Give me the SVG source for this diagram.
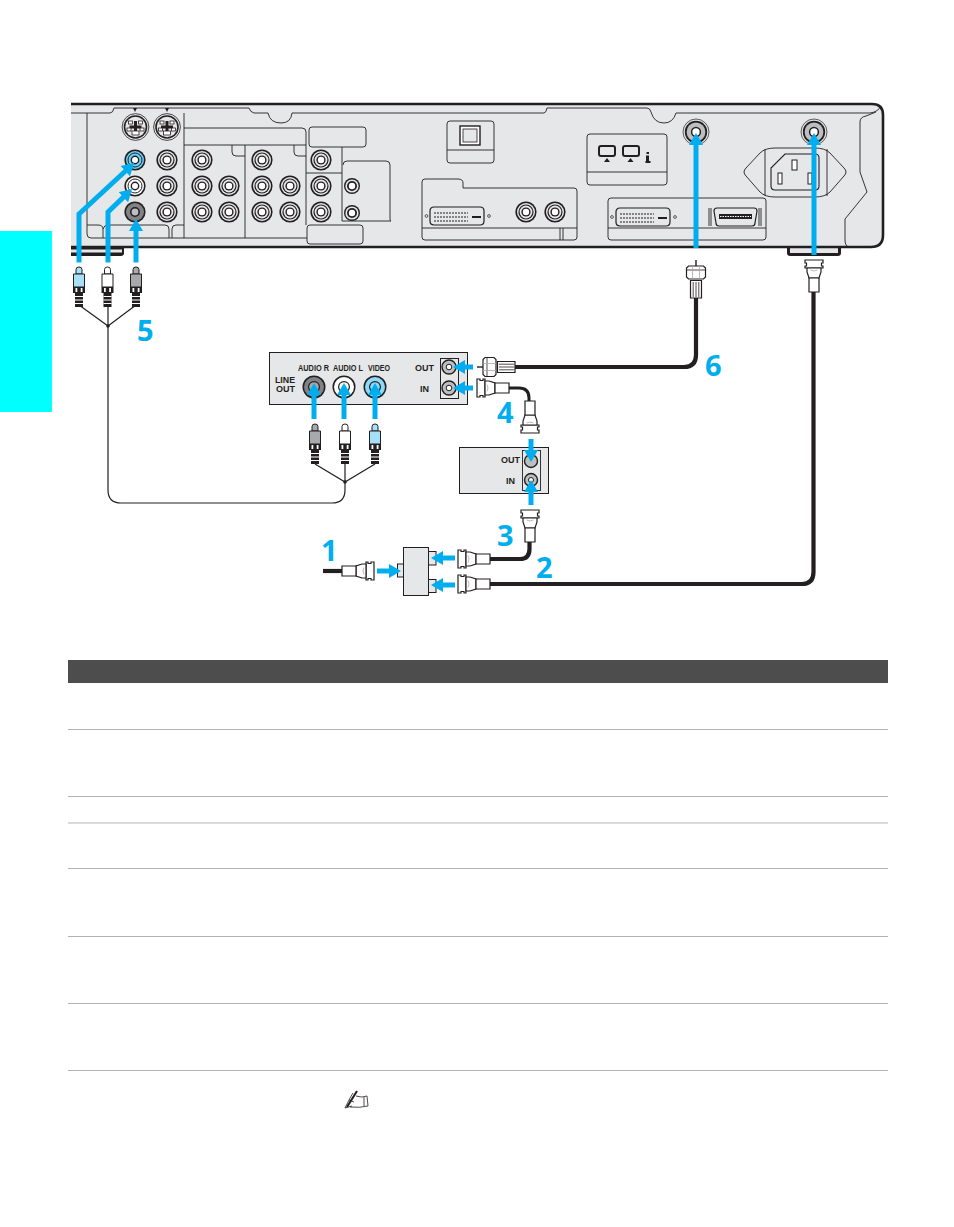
<svg xmlns="http://www.w3.org/2000/svg" width="954" height="1227" viewBox="0 0 954 1227">
<style>
.ln{fill:none;stroke:#231f20;stroke-width:.9}
.pn{fill:#e6e7e8;stroke:#231f20;stroke-width:.9}
.thick{fill:none;stroke:#231f20;stroke-width:4.2}
.mid{fill:none;stroke:#231f20;stroke-width:3}
.thin{fill:none;stroke:#231f20;stroke-width:1.2}
.arr{fill:none;stroke:#00aeef;stroke-width:5;marker-end:url(#ah)}
.num{font-family:"Open Sans",sans-serif;font-weight:700;font-size:29px;fill:#00aeef}
.lab{font-family:"Liberation Sans",sans-serif;font-weight:700;font-size:8.4px;fill:#231f20}
.rule{fill:none;stroke:#b3b3b3;stroke-width:1}
</style>
<defs>
<marker id="ah" markerUnits="userSpaceOnUse" markerWidth="14" markerHeight="16" refX="1" refY="8" orient="auto"><path d="M0 1L12 8L0 15Z" fill="#00aeef"/></marker>
<g id="rca"><circle r="10.6" fill="#231f20"/><circle r="9" fill="#e6e7e8"/><circle r="7.6" fill="#231f20"/><circle r="6.4" fill="#e6e7e8"/><circle r="4.6" fill="#231f20"/><circle r="3.2" fill="#fff"/></g>
<g id="rcas"><circle r="8" fill="#231f20"/><circle r="6.6" fill="#e6e7e8"/><circle r="5" fill="#231f20"/><circle r="3.2" fill="#fff"/></g>
<g id="svid"><circle r="13.4" fill="#e6e7e8" stroke="#231f20" stroke-width=".8"/><circle r="11.8" fill="#231f20"/><circle r="10.2" fill="#e6e7e8"/><path d="M-1.5-6H1.500V-1.500H6V1.500H1.500V4H-1.500V1.500H-6V-1.500H-1.500Z" fill="#231f20"/><g fill="#fff" stroke="#231f20" stroke-width=".8"><rect x="-7" y="-6" width="4" height="3"/><rect x="3" y="-6" width="4" height="3"/><rect x="-8.500" y="1" width="4" height="3"/><rect x="4.500" y="1" width="4" height="3"/><rect x="-3.500" y="4" width="7" height="4"/></g></g>
<g id="coax"><circle r="13" fill="#e6e7e8" stroke="#231f20" stroke-width=".7"/><circle r="11.200" fill="#231f20"/><circle r="9.400" fill="#bcbec0"/><circle r="4.400" fill="#fff" stroke="#231f20" stroke-width="1.500"/></g>
<g id="rcaplug"><path d="M-3 7V2.500Q-3 0 0 0Q3 0 3 2.500V7Z" stroke="#231f20" stroke-width="1"/><path d="M-5.500 7H5.500V20H-5.500Z" stroke="#231f20" stroke-width="1"/><path d="M-6 20H6V26H-6Z" fill="#231f20"/><rect x="-3.500" y="21" width="1.800" height="4" fill="#fff"/><rect x="1.700" y="21" width="1.800" height="4" fill="#fff"/><rect x="-4" y="26" width="8" height="14" fill="#231f20"/><path d="M-4 29.500h8M-4 33h8M-4 36.500h8" stroke="#fff" stroke-width="1"/></g>
<g id="coaxA" fill="#fff" stroke="#231f20" stroke-width="1"><path d="M0 0V6" stroke-width="1.400"/><path d="M-7.500 6H7.500L9.500 8V17L7.500 19H-7.500L-9.500 17V8Z" stroke-width="1.200"/><path d="M-9.500 10H9.500" stroke-width=".8"/><path d="M-3.500 6V19M3.500 6V19" stroke="#a7a9ac" stroke-width=".8"/><path d="M-5.500 20.500H5.500V38H-5.500Z" stroke-width="1.200"/><path d="M-2.800 22V37M0 22V37M2.800 22V37" stroke-width=".8"/></g>
<g id="coaxB" fill="#fff" stroke="#231f20" stroke-width="1.200"><path d="M-9 0H9V3H7.500V6H9V8H-9V6H-7.500V3H-9Z"/><path d="M-7 8H7V12L5 18H-5L-7 12Z"/><path d="M-5 18H5V32H-5Z"/><path d="M-3.500 10Q0 12 3.500 10" stroke="#a7a9ac" stroke-width=".8" fill="none"/></g>
<g id="dvi" fill="none" stroke="#231f20"><path d="M4 0H50Q54 0 54 4V14Q54 18 50 18H4Q0 18 0 14V4Q0 0 4 0Z" stroke-width="1.200"/><path d="M4 6H38M4 10H38M4 14H38" stroke-width="1.100" stroke-dasharray="2 1"/><path d="M42 10H51" stroke-width="2"/></g>
</defs>

<rect id="side-tab" x="0" y="231" width="52" height="181" fill="#00ffff"/>

<g id="panel">
<path d="M71 247H124V253Q124 256 121 256H71Z" fill="#231f20"/><rect x="71" y="249.500" width="51" height="3" fill="#e6e7e8"/>
<path d="M787 247H841V253Q841 256 838 256H790Q787 256 787 253Z" fill="#231f20"/><rect x="790" y="248" width="48" height="5" fill="#e6e7e8"/>
<path d="M71 104H872Q883 104 883 115V235Q883 247 871 247H71Z" fill="#e6e7e8"/>
<path d="M71 104H872Q883 104 883 115V235Q883 247 871 247H71" fill="none" stroke="#231f20" stroke-width="2.600"/>
<path class="ln" d="M71 113H110Q113 113 114 108H249Q250 112 254 113H268Q270 123 281 123Q291 123 292 113H544Q546 113 547 108H647Q650 108 651 112Q654 123 664 123Q673 123 676 113H870Q878 112 881 106"/>
<path class="ln" d="M87 113V234Q87 238 91 238H184V113"/>
<path class="ln" d="M87 225H98Q103 225 103 229V238M103 229Q104 225 108 225H165Q169 225 169 229V238M172 238V229Q172 225 176 225H184"/>
<path class="ln" d="M184 128H302Q306 128 306 132V225M184 145H306M245 145V238M184 238H307M232 145V152Q232 156 236 156H245M294 145V152Q294 156 298 156H306M306 173H342M342 147V173"/>
<rect class="ln" x="309" y="127" width="57" height="20" rx="3"/>
<path class="ln" d="M342 173V221H391Q390 221 390 219V165Q390 161 386 161H347Q343 161 343 165"/>
<rect class="pn" x="307" y="225" width="56" height="19" rx="3"/>
<path d="M133 108h4l-2 4ZM165 108h4l-2 4Z" fill="#231f20"/>
<path class="ln" d="M860 247H850Q845 247 845 240V219L867 192L860 172V122Q860 117 866 116L876 112"/>

<use href="#svid" x="135.500" y="127"/><use href="#svid" x="167" y="127"/>
<g id="jack-blue"><circle cx="135" cy="160" r="10.600" fill="#231f20"/><circle cx="135" cy="160" r="9" fill="#6dcff6"/><circle cx="135" cy="160" r="7" fill="none" stroke="#231f20"/><circle cx="135" cy="160" r="4.400" fill="#231f20"/><circle cx="135" cy="160" r="3" fill="#fff"/></g>
<g id="jack-white"><circle cx="135" cy="186" r="10.600" fill="#231f20"/><circle cx="135" cy="186" r="9" fill="#fff"/><circle cx="135" cy="186" r="7" fill="none" stroke="#231f20"/><circle cx="135" cy="186" r="4.400" fill="#231f20"/><circle cx="135" cy="186" r="3" fill="#fff"/></g>
<g id="jack-grey"><circle cx="135" cy="212" r="10.600" fill="#231f20"/><circle cx="135" cy="212" r="9" fill="#808285"/><circle cx="135" cy="212" r="5" fill="#231f20"/><circle cx="135" cy="212" r="3.400" fill="#bcbec0"/></g>
<use href="#rca" x="167" y="160"/><use href="#rca" x="167" y="186"/><use href="#rca" x="167" y="212"/>
<use href="#rca" x="202" y="160"/><use href="#rca" x="202" y="186"/><use href="#rca" x="202" y="212"/>
<use href="#rca" x="229" y="186"/><use href="#rca" x="229" y="212"/>
<use href="#rca" x="262" y="160"/><use href="#rca" x="262" y="186"/><use href="#rca" x="262" y="212"/>
<use href="#rca" x="290" y="186"/><use href="#rca" x="290" y="212"/>
<use href="#rca" x="321" y="160"/><use href="#rca" x="321" y="186"/><use href="#rca" x="321" y="212"/>
<use href="#rcas" x="352" y="186"/><use href="#rcas" x="352" y="213"/>

<rect class="ln" x="447" y="121" width="47" height="42" rx="3"/><path class="ln" d="M447 150H494"/>
<rect x="460" y="126" width="20" height="19" fill="#fff" stroke="#231f20" stroke-width="1.400"/><rect x="463" y="129" width="14" height="13" fill="#e6e7e8" stroke="#231f20" stroke-width=".8"/>
<rect class="ln" x="587" y="134" width="80" height="51" rx="3"/><path class="ln" d="M587 172H667"/>
<g fill="#e6e7e8" stroke="#231f20" stroke-width="2"><rect x="599" y="146" width="16" height="10" rx="2"/><rect x="623" y="146" width="16" height="10" rx="2"/></g>
<path d="M604 162l3-4l3 4ZM627.500 162l3-4l3 4Z" fill="#231f20"/>
<path d="M646.500 152h2.500v2h-2.500ZM646 155.500h3v5.500h1.500v2h-5v-2h.5Z" fill="#231f20"/>
<path class="ln" d="M425 179H458Q463 179 463 183V188H574Q577 188 577 191V237Q577 240 574 240H425Q422 240 422 237V182Q422 179 425 179ZM422 228H577M560 228V240M563 240V228"/>
<use href="#dvi" x="430" y="207"/><circle cx="426.500" cy="216" r="1.400" fill="none" stroke="#231f20" stroke-width=".7"/><circle cx="489" cy="216" r="1.400" fill="none" stroke="#231f20" stroke-width=".7"/>
<use href="#rca" x="526" y="212"/><use href="#rca" x="555" y="212"/>
<rect class="ln" x="608" y="198" width="158" height="42" rx="3"/><path class="ln" d="M608 228H766"/>
<use href="#dvi" x="616" y="208"/><circle cx="612" cy="217" r="1.400" fill="none" stroke="#231f20" stroke-width=".7"/><circle cx="675" cy="217" r="1.400" fill="none" stroke="#231f20" stroke-width=".7"/>
<path d="M717 208H754Q757 208 757 211L755 223Q755 226 752 226H719Q716 226 716 223L714 211Q714 208 717 208Z" fill="#e6e7e8" stroke="#231f20" stroke-width="1.200"/>
<rect x="719" y="214" width="33" height="5" fill="#231f20"/><path d="M720 216.500H751" stroke="#fff" stroke-width="1.200" stroke-dasharray="1.500 1"/>
<path d="M709 208V226M711 208V226M759 208V226M761 208V226" class="ln"/>
<path class="ln" d="M775 148H815Q825 148 830 153L844 168Q848 172 844 176L830 192Q825 197 815 197H775Q765 197 760 192L746 176Q742 172 746 168L760 153Q765 148 775 148ZM765 149V196M827 149V196"/>
<path class="pn" d="M785 154H815Q819 154 819 158V186Q819 190 815 190H775Q771 190 771 186V168Z" style="fill:#e6e7e8;stroke-width:1.100"/>
<rect x="792" y="160" width="5" height="10" fill="#fff" stroke="#231f20"/><rect x="778" y="173" width="4" height="11" fill="#fff" stroke="#231f20"/><rect x="808" y="173" width="4" height="11" fill="#fff" stroke="#231f20"/>
<use href="#coax" x="696" y="132"/><use href="#coax" x="814" y="132"/>
</g>

<g id="line-out-box">
<rect x="269.500" y="352.500" width="198" height="52" fill="#e6e7e8" stroke="#231f20"/>
<text class="lab" x="298" y="371" textLength="31" lengthAdjust="spacingAndGlyphs">AUDIO R</text><text class="lab" x="333" y="371" textLength="30" lengthAdjust="spacingAndGlyphs">AUDIO L</text><text class="lab" x="368" y="371" textLength="22" lengthAdjust="spacingAndGlyphs">VIDEO</text>
<text class="lab" x="275" y="383" textLength="20" lengthAdjust="spacingAndGlyphs">LINE</text><text class="lab" x="276" y="392" textLength="19" lengthAdjust="spacingAndGlyphs">OUT</text>
<text class="lab" x="415" y="371" textLength="19" lengthAdjust="spacingAndGlyphs">OUT</text><text class="lab" x="420" y="392" textLength="9" lengthAdjust="spacingAndGlyphs">IN</text>
<circle cx="314" cy="387" r="11.500" fill="#231f20"/><circle cx="314" cy="387" r="10" fill="#808285"/><circle cx="314" cy="387" r="6" fill="#231f20"/><circle cx="314" cy="387" r="4.800" fill="#a7a9ac"/>
<circle cx="344" cy="387" r="11.500" fill="#231f20"/><circle cx="344" cy="387" r="10" fill="#fff"/><circle cx="344" cy="387" r="6" fill="#231f20"/><circle cx="344" cy="387" r="4.800" fill="#fff"/>
<circle cx="375" cy="387" r="11.500" fill="#231f20"/><circle cx="375" cy="387" r="10" fill="#8ed8f8"/><circle cx="375" cy="387" r="6" fill="#231f20"/><circle cx="375" cy="387" r="4.800" fill="#8ed8f8"/>
<rect class="ln" x="440.500" y="358.500" width="18" height="40" style="stroke-width:1"/>
<circle cx="449" cy="367" r="7" fill="#bcbec0" stroke="#231f20" stroke-width="1.400"/><circle cx="449" cy="367" r="2.800" fill="#fff" stroke="#231f20"/>
<circle cx="449" cy="388" r="7" fill="#bcbec0" stroke="#231f20" stroke-width="1.400"/><circle cx="449" cy="388" r="2.800" fill="#fff" stroke="#231f20"/>
</g>

<g id="vcr-box">
<rect x="459.500" y="447.500" width="89" height="46" fill="#e6e7e8" stroke="#231f20"/>
<text class="lab" x="501" y="463" textLength="19" lengthAdjust="spacingAndGlyphs">OUT</text><text class="lab" x="506" y="484" textLength="9" lengthAdjust="spacingAndGlyphs">IN</text>
<rect class="ln" x="522.500" y="450.500" width="18" height="40"/>
<circle cx="531" cy="461" r="6.500" fill="#bcbec0" stroke="#231f20" stroke-width="1.400"/>
<circle cx="531" cy="480" r="6.500" fill="#bcbec0" stroke="#231f20" stroke-width="1.400"/><circle cx="531" cy="480" r="2.500" fill="#fff" stroke="#231f20"/>
</g>

<g id="splitter">
<rect x="397.500" y="564" width="6" height="13" fill="#e6e7e8" stroke="#231f20"/>
<rect x="428" y="551.500" width="8" height="13.500" fill="#e6e7e8" stroke="#231f20"/>
<rect x="428" y="579.500" width="8" height="13" fill="#e6e7e8" stroke="#231f20"/>
<rect x="403.500" y="547.500" width="25" height="48" fill="#e6e7e8" stroke="#231f20"/>
</g>

<g id="connectors">
<path class="thin" d="M79 305L108 326L136 305M108 307V490Q108 503 121 503H332Q345 503 345 490V482M315 464L345 482L375 464M345 464V482"/>
<circle cx="108" cy="326" r="1.800" fill="#231f20"/><circle cx="345" cy="482" r="1.800" fill="#231f20"/>
<path class="thick" d="M696 296V355Q696 367 684 367H512"/>
<path class="mid" d="M505 388H519Q529 388 529 398V405"/>
<path class="thick" d="M488 559H520Q529.500 559 529.500 549V538"/>
<path class="thick" d="M488 584H802Q813.500 584 813.500 572V290"/>
<path class="thick" d="M323 571H352"/>
</g>

<g id="plugs">
<use href="#rcaplug" x="79" y="267" fill="#a5e0f7"/><use href="#rcaplug" x="107.500" y="267" fill="#fff"/><use href="#rcaplug" x="136" y="267" fill="#a7a9ac"/>
<use href="#rcaplug" x="315" y="424" fill="#a7a9ac"/><use href="#rcaplug" x="345" y="424" fill="#fff"/><use href="#rcaplug" x="375" y="424" fill="#a5e0f7"/>
<use href="#coaxA" transform="translate(696 260)"/>
<use href="#coaxB" transform="translate(814 260)"/>
<use href="#coaxA" transform="translate(477 367) rotate(-90)" />
<use href="#coaxB" transform="translate(477 388) rotate(-90)"/>
<use href="#coaxB" transform="translate(530 433) rotate(180)"/>
<use href="#coaxB" transform="translate(530 510)"/>
<use href="#coaxB" transform="translate(458 559) rotate(-90)"/>
<use href="#coaxB" transform="translate(458 584) rotate(-90)"/>
<use href="#coaxB" transform="translate(374 571) rotate(90)"/>
</g>

<g id="arrows">
<path class="arr" d="M79 262.500V214L126 170.500"/>
<path class="arr" d="M108 262.500V212L124 196.600"/>
<path class="arr" d="M136 262.500V230"/>
<path class="arr" d="M696 248V144"/>
<path class="arr" d="M814 255V144"/>
<path class="arr" d="M314 419V394"/><path class="arr" d="M344 419V394"/><path class="arr" d="M375 419V394"/>
<path class="arr" d="M473 367H464"/><path class="arr" d="M473 388H464"/>
<path class="arr" d="M531 439V451"/><path class="arr" d="M531 505V491"/>
<path class="arr" d="M377 571H390"/><path class="arr" d="M455 558H442"/><path class="arr" d="M455 585H442"/>
</g>

<g id="numbers">
<text class="num" x="321" y="561">1</text>
<text class="num" x="536" y="578">2</text>
<text class="num" x="497" y="546">3</text>
<text class="num" x="497" y="423">4</text>
<text class="num" x="137" y="341">5</text>
<text class="num" x="705" y="376">6</text>
</g>

<g id="table">
<rect x="68" y="660" width="820" height="23" fill="#4d4d4d"/>
<path class="rule" d="M68 729.500H888M68 796.500H888M68 823H888M68 868.500H888M68 936.500H888M68 1003.500H888M68 1070.500H888"/>
<g id="note-icon" fill="none" stroke="#231f20" stroke-width=".8">
<path d="M356 1096Q362 1098 367 1096L368 1106Q360 1108 350 1107"/><path d="M364 1097V1106"/>
<path d="M357 1091L347 1107" stroke-width="2"/><path d="M353 1093L350 1098L345 1108L352 1106"/><path d="M349 1100L354 1102"/>
</g>
</g>
</svg>
